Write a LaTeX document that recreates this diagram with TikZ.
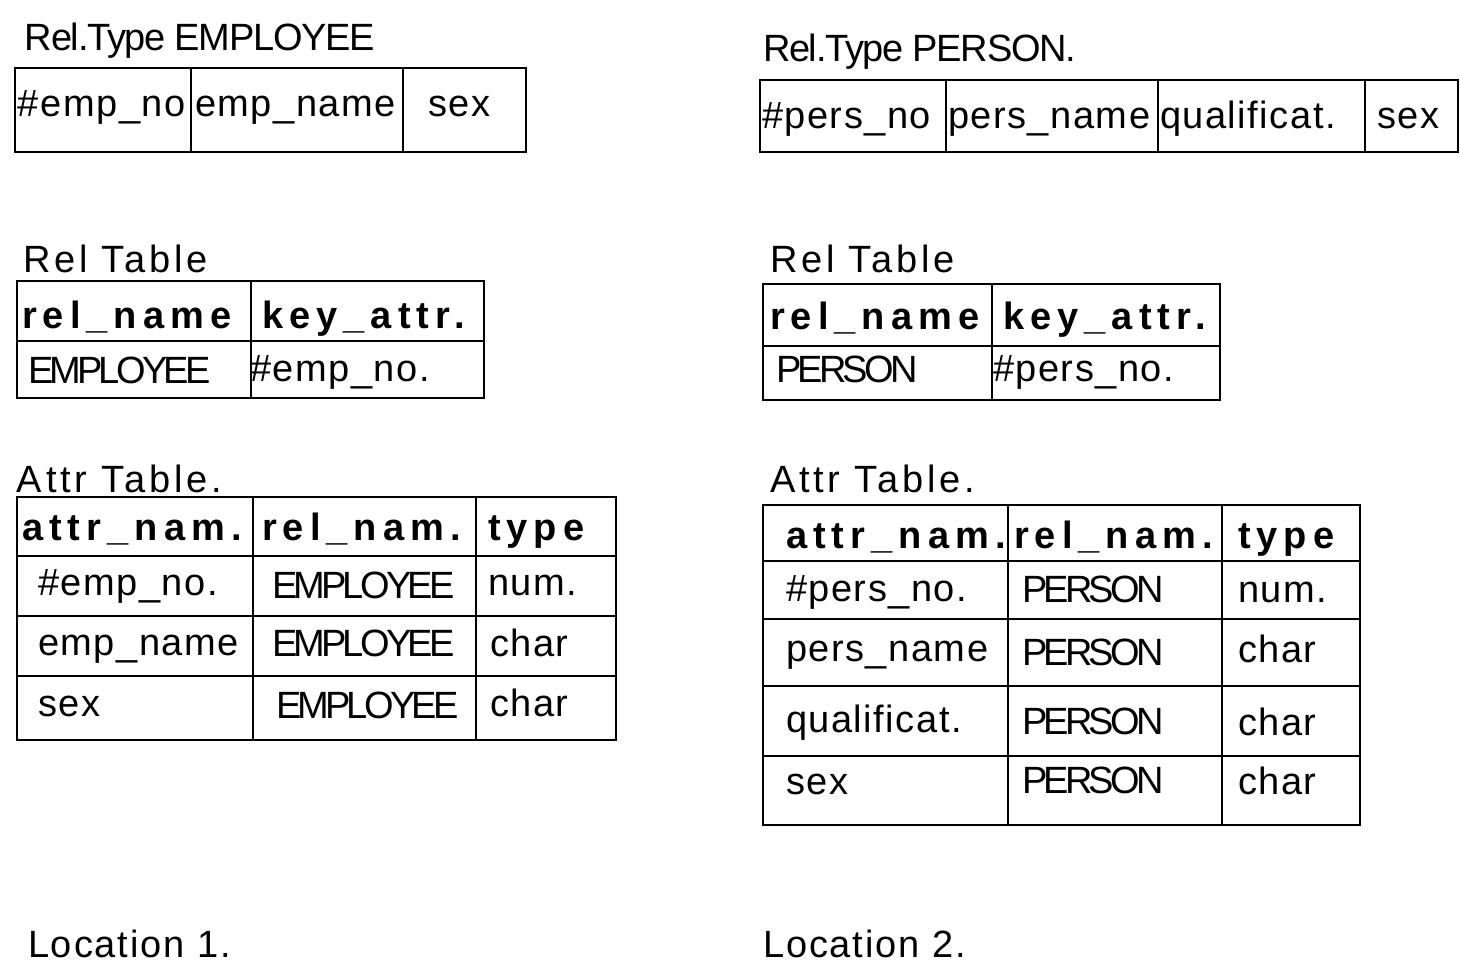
\documentclass[tikz,border=0pt]{standalone}
\usepackage{fontspec}
\setmainfont{Liberation Sans}
\newfontfamily\ttlfont[LetterSpace=-3.5]{Liberation Sans}
\newfontfamily\lblfont[LetterSpace=10]{Liberation Sans}
\newfontfamily\locfont[LetterSpace=5]{Liberation Sans}
\newfontfamily\cellfont[LetterSpace=4]{Liberation Sans}
\newfontfamily\headfont[LetterSpace=16]{Liberation Sans}
\newfontfamily\relfont[LetterSpace=-10]{Liberation Sans}
\begin{document}
\begin{tikzpicture}[x=0.5pt,y=-0.5pt,
  txt/.style={anchor=base west,inner sep=0pt,outer sep=0pt},
  ttl/.style={txt,font=\ttlfont\fontsize{19}{22}\selectfont},
  lbl/.style={txt,font=\lblfont\fontsize{19}{22}\selectfont},
  loc/.style={txt,font=\locfont\fontsize{19}{22}\selectfont},
  cell/.style={txt,font=\cellfont\fontsize{19}{22}\selectfont},
  head/.style={txt,font=\headfont\bfseries\fontsize{19}{22}\selectfont},
  rel/.style={txt,font=\relfont\fontsize{19}{22}\selectfont},
  tbl/.style={line width=1.2pt,line join=miter}]
\useasboundingbox (0,0) rectangle (1460,966);

%% ---------------- Location 1: EMPLOYEE ----------------
\node[ttl] (t1) at (25,50) {Rel.Type EMPLOYEE};
\draw[tbl] (15,68) rectangle (526,152);
\draw[tbl] (191,68) -- (191,152) (403,68) -- (403,152);
\node[cell] (e1a) at (18,116) {\#emp\_no};
\node[cell] (e1b) at (195,116) {emp\_name};
\node[cell] (e1c) at (428,116) {sex};

\node[lbl] (rt1) at (23,272) {Rel Table};
\draw[tbl] (17,281) rectangle (484,398);
\draw[tbl] (17,341) -- (484,341) (251,281) -- (251,398);
\node[head] (rh1a) at (22,328) {rel\_name};
\node[head] (rh1b) at (262,328) {key\_attr.};
\node[rel]  (rr1a) at (28,383) {EMPLOYEE};
\node[cell] (rr1b) at (250,381) {\#emp\_no.};

\node[lbl] (at1) at (17,492) {Attr Table.};
\draw[tbl] (17,497) rectangle (616,740);
\draw[tbl] (17,556) -- (616,556) (17,616) -- (616,616) (17,676) -- (616,676);
\draw[tbl] (253,497) -- (253,740) (476,497) -- (476,740);
\node[head] (ah1a) at (22,540) {attr\_nam.};
\node[head] (ah1b) at (262,540) {rel\_nam.};
\node[head] (ah1c) at (488,540) {type};
\node[cell] (a1r1a) at (38,595) {\#emp\_no.};
\node[rel]  (a1r1b) at (272,598) {EMPLOYEE};
\node[cell] (a1r1c) at (488,595) {num.};
\node[cell] (a1r2a) at (38,655) {emp\_name};
\node[rel]  (a1r2b) at (272,656) {EMPLOYEE};
\node[cell] (a1r2c) at (490,656) {char};
\node[cell] (a1r3a) at (38,716) {sex};
\node[rel]  (a1r3b) at (276,718) {EMPLOYEE};
\node[cell] (a1r3c) at (490,716) {char};

\node[loc] (loc1) at (28,957) {Location 1.};

%% ---------------- Location 2: PERSON ----------------
\node[ttl] (t2) at (763,61) {Rel.Type PERSON.};
\draw[tbl] (760,80) rectangle (1458,152);
\draw[tbl] (946,80) -- (946,152) (1158,80) -- (1158,152) (1365,80) -- (1365,152);
\node[cell] (p1a) at (762,128) {\#pers\_no};
\node[cell] (p1b) at (948,128) {pers\_name};
\node[cell] (p1c) at (1160,128) {qualificat.};
\node[cell] (p1d) at (1377,128) {sex};

\node[lbl] (rt2) at (770,272) {Rel Table};
\draw[tbl] (763,284) rectangle (1220,400);
\draw[tbl] (763,346) -- (1220,346) (992,284) -- (992,400);
\node[head] (rh2a) at (770,329) {rel\_name};
\node[head] (rh2b) at (1003,329) {key\_attr.};
\node[rel]  (rr2a) at (776,382) {PERSON};
\node[cell] (rr2b) at (993,381) {\#pers\_no.};

\node[lbl] (at2) at (770,492) {Attr Table.};
\draw[tbl] (763,505) rectangle (1360,825);
\draw[tbl] (763,561) -- (1360,561) (763,619) -- (1360,619) (763,686) -- (1360,686) (763,756) -- (1360,756);
\draw[tbl] (1008,505) -- (1008,825) (1222,505) -- (1222,825);
\node[head] (ah2a) at (786,548) {attr\_nam.};
\node[head] (ah2b) at (1014,548) {rel\_nam.};
\node[head] (ah2c) at (1238,548) {type};
\node[cell] (a2r1a) at (786,601) {\#pers\_no.};
\node[rel]  (a2r1b) at (1022,602) {PERSON};
\node[cell] (a2r1c) at (1238,602) {num.};
\node[cell] (a2r2a) at (786,661) {pers\_name};
\node[rel]  (a2r2b) at (1022,665) {PERSON};
\node[cell] (a2r2c) at (1238,662) {char};
\node[cell] (a2r3a) at (786,732) {qualificat.};
\node[rel]  (a2r3b) at (1022,734) {PERSON};
\node[cell] (a2r3c) at (1238,735) {char};
\node[cell] (a2r4a) at (786,794) {sex};
\node[rel]  (a2r4b) at (1022,793) {PERSON};
\node[cell] (a2r4c) at (1238,794) {char};

\node[loc] (loc2) at (763,957) {Location 2.};
\end{tikzpicture}
\end{document}
